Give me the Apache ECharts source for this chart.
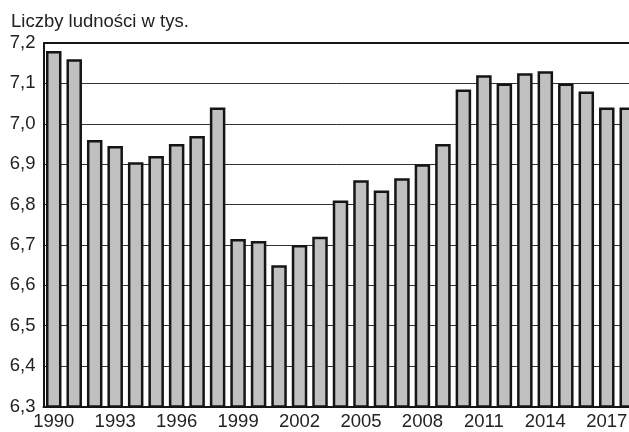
<!DOCTYPE html>
<html>
<head>
<meta charset="utf-8">
<script src="https://cdn.jsdelivr.net/npm/echarts@6/dist/echarts.min.js"></script>
<style>
  html, body { margin: 0; padding: 0; background: #fff; }
  #chart { width: 629px; height: 432px; }
</style>
</head>
<body>
<div id="chart"></div>
<script>
// Population (thousands) by year
const years = ['1990','1991','1992','1993','1994','1995','1996','1997','1998','1999',
               '2000','2001','2002','2003','2004','2005','2006','2007','2008','2009',
               '2010','2011','2012','2013','2014','2015','2016','2017','2018'];
const population = [7.18, 7.16, 6.96, 6.945, 6.905, 6.92, 6.95, 6.97, 7.04, 6.715,
                    6.71, 6.65, 6.70, 6.72, 6.81, 6.86, 6.835, 6.865, 6.90, 6.95,
                    7.085, 7.12, 7.10, 7.125, 7.13, 7.10, 7.08, 7.04, 7.04];
const yTickLabels = ['6,3','6,4','6,5','6,6','6,7','6,8','6,9','7,0','7,1','7,2'];
const titleText = 'Liczby ludności w tys.';

const chart = echarts.init(document.getElementById('chart'), null, { renderer: 'canvas' });
const font = 'Liberation Sans, Arial, sans-serif';

chart.setOption({
  animation: false,
  backgroundColor: '#ffffff',
  title: {
    text: titleText,
    left: 6, top: 7,
    textStyle: { fontFamily: font, fontSize: 18.5, fontWeight: 'normal', color: '#222' }
  },
  // the plot runs a little past the right edge, so the last bar is cut
  grid: {
    left: 43.5, top: 43, height: 363.5, width: 594,
    containLabel: false, outerBoundsMode: 'none'
  },
  xAxis: {
    type: 'category',
    data: years,
    boundaryGap: true,
    axisLine: { show: true, lineStyle: { color: '#151515', width: 2 } },
    axisTick: { show: false },
    axisLabel: {
      interval: 2, margin: 6,
      fontFamily: font, fontSize: 18.5, color: '#222'
    },
    splitLine: { show: false }
  },
  yAxis: {
    type: 'value',
    min: 6.3, max: 7.2, interval: 0.1,
    axisLine: { show: true, lineStyle: { color: '#151515', width: 2 } },
    axisTick: { show: false },
    axisLabel: {
      margin: 8,
      fontFamily: font, fontSize: 18.5, color: '#222',
      formatter: v => yTickLabels[Math.round((v - 6.3) * 10)]
    },
    splitLine: { show: true, lineStyle: { color: '#333', width: 1 } }
  },
  series: [{
    type: 'bar',
    data: population,
    barWidth: 15.5,
    itemStyle: { color: '#c0c0c0', borderColor: '#151515', borderWidth: 2.5 },
    markLine: {
      silent: true,
      symbol: 'none',
      label: { show: false },
      lineStyle: { color: '#151515', width: 2, type: 'solid' },
      data: [{ yAxis: 7.2 }]
    }
  }]
});
</script>
</body>
</html>
